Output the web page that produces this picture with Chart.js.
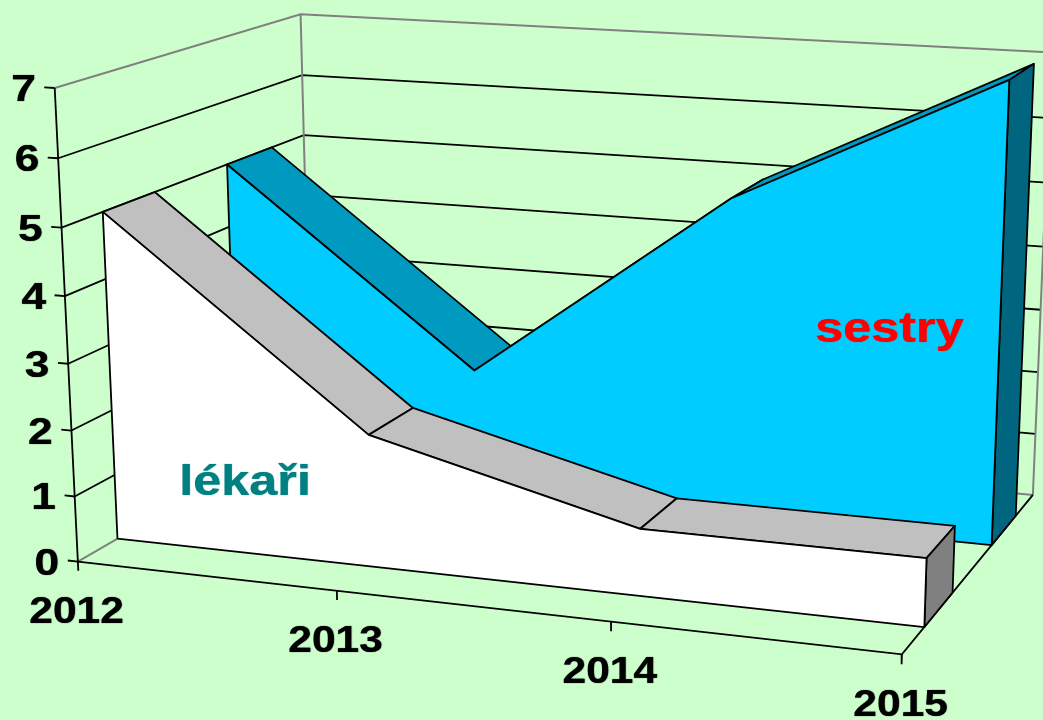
<!DOCTYPE html>
<html><head><meta charset="utf-8">
<style>html,body{margin:0;padding:0;background:#CCFFCC;overflow:hidden}#c{display:block}</style>
<script src="https://cdn.jsdelivr.net/npm/chart.js@4"></script></head>
<body><canvas id="c" width="1043" height="720"></canvas>
<script>
const categories=['2012','2013','2014','2015'];
const lekari=[5,2,1,1];
const sestry=[5,2,5,7];
const yTicks=[0,1,2,3,4,5,6,7];
const lekariDepth=[0.15,0.35];
const sestryDepth=[0.65,0.85];
// 3D camera of the chart: maps (category index, value, depth) onto the canvas
const m=[0.249630,-0.003644,0.282537,0.077867,0.012725,-0.068207,-0.068278,0.561645,-0.027775,-0.006160,0.157299];
function P(X,Y,Z){const w=m[8]*X+m[9]*Y+m[10]*Z+1;return {x:1000*(m[0]*X+m[1]*Y+m[2]*Z+m[3])/w,y:1000*(m[4]*X+m[5]*Y+m[6]*Z+m[7])/w};}
const ds=[];
const LW=1.8;
function seg(pts,color,w){ds.push({data:pts.map(p=>P(...p)),showLine:true,pointRadius:0,borderColor:color,borderWidth:w||LW,fill:false,tension:0,clip:false,order:-ds.length});}
function poly(pts,bg){pts=pts.concat([pts[0]]);ds.push({data:pts.map(p=>P(...p)),showLine:true,pointRadius:0,borderColor:'#000',borderWidth:LW,backgroundColor:bg,fill:'shape',tension:0,clip:false,borderJoinStyle:'round',order:-ds.length});}
const G='#808080',lastX=categories.length-1,yMax=yTicks[yTicks.length-1];
yTicks.slice(1,-1).forEach(y=>{seg([[0,y,0],[0,y,1],[lastX,y,1]],'#000');});
seg([[0,yMax,0],[0,yMax,1],[lastX,yMax,1]],G,2);
seg([[0,0,0],[0,0,1],[lastX,0,1]],G,2);
seg([[0,0,1],[0,yMax,1]],G,2);
seg([[lastX,0,1],[lastX,yMax,1]],G,2);
seg([[0,0,0],[0,yMax,0]],'#000');
seg([[0,0,0],[lastX,0,0],[lastX,0,1]],'#000');
yTicks.forEach(y=>seg([[-0.04,y,0],[0,y,0]],'#000'));
categories.forEach((c,i)=>seg([[i,0,0],[i,-0.14,0]],'#000'));
function area(v,d,front,topc,side){
 v.forEach((y,i)=>{if(i<lastX)poly([[i,y,d[0]],[i,y,d[1]],[i+1,v[i+1],d[1]],[i+1,v[i+1],d[0]]],topc);});
 poly([[lastX,0,d[0]],[lastX,0,d[1]],[lastX,v[lastX],d[1]],[lastX,v[lastX],d[0]]],side);
 poly([[0,0,d[0]],...v.map((y,i)=>[i,y,d[0]]),[lastX,0,d[0]]],front);
}
area(sestry,sestryDepth,'#00CCFF','#0099BF','#006680');
area(lekari,lekariDepth,'#FFFFFF','#C0C0C0','#808080');
const textPlugin={id:'t',afterDraw(ch){const c=ch.ctx;
 const put=(s,x,y,size,sx,col,al)=>{c.save();c.translate(x,y);c.scale(sx,1);c.font='bold '+size+'px "Liberation Sans"';c.fillStyle=col;c.textAlign=al;c.shadowColor=col;c.shadowBlur=1;c.shadowOffsetX=0.5;c.fillText(s,0,0);c.restore();};
 yTicks.forEach(y=>{const p=P(0,y,0);put(String(y),p.x-19,p.y+13,37,1.2,'#000','right');});
 categories.forEach((t,i)=>{const p=P(i,0,0);put(t,p.x-1.5,p.y+61.5,37,1.15,'#000','center');});
 put('lékaři',179,495,42,1.2,'#008080','left');
 put('sestry',815,342,42,1.2,'#FF0000','left');
 }};
new Chart(document.getElementById('c'),{type:'scatter',data:{datasets:ds},plugins:[textPlugin],options:{responsive:false,animation:false,layout:{padding:0},
 plugins:{legend:{display:false},tooltip:{enabled:false}},
 scales:{x:{type:'linear',min:0,max:1043,display:false},y:{type:'linear',min:0,max:720,reverse:true,display:false}}}});
</script></body></html>
